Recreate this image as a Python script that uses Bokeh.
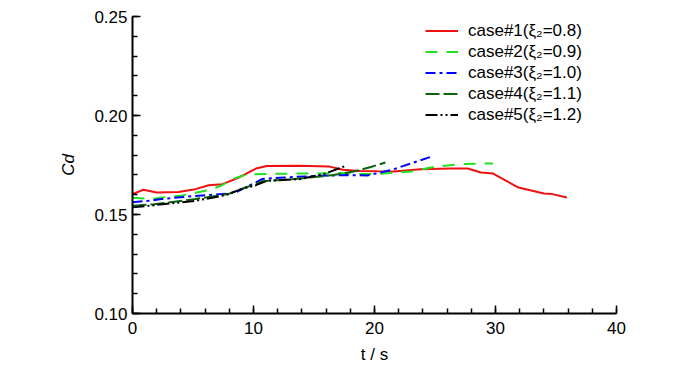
from bokeh.plotting import figure
from bokeh.models import FixedTicker, NumeralTickFormatter, Legend, LegendItem, Range1d
from bokeh.embed import file_html
from bokeh.resources import INLINE

# ---- data ----
t1 = [0, 0.9, 2.0, 3.8, 5.2, 6.3, 7.4, 7.9, 8.8, 10.2, 11.1, 13.7, 16.2, 17.4, 18.8, 20.2,
      21.6, 23.8, 26.3, 27.7, 28.8, 29.8, 31.9, 34.0, 34.7, 35.9]
cd1 = [0.1603, 0.1625, 0.1611, 0.1614, 0.1628, 0.1648, 0.1653, 0.1665, 0.1687, 0.1732, 0.1745,
       0.1746, 0.1743, 0.1726, 0.1720, 0.1718, 0.1717, 0.1728, 0.1732, 0.1732, 0.1712, 0.1707,
       0.1636, 0.1606, 0.1603, 0.1586]

t2 = [0, 1.5, 2.4, 4.0, 5.2, 6.4, 7.3, 8.3, 9.5, 12.1, 15.2, 17.2, 18.8, 20.2, 21.7, 23.0, 24.9,
      27.3, 29.8]
cd2 = [0.1585, 0.1578, 0.1586, 0.1595, 0.1610, 0.1625, 0.1645, 0.1680, 0.1703, 0.1706, 0.1707,
       0.1710, 0.1705, 0.1704, 0.1712, 0.1717, 0.1740, 0.1755, 0.1758]

t3 = [0, 1.3, 2.4, 5.2, 7.4, 8.5, 9.3, 10.2, 10.7, 12.5, 15.3, 17.7, 19.4, 21.4, 24.9]
cd3 = [0.1562, 0.1569, 0.1578, 0.1594, 0.1603, 0.1611, 0.1636, 0.1662, 0.1679, 0.1687, 0.1695,
       0.1699, 0.1697, 0.1725, 0.1796]

t4 = [0, 1.8, 5.2, 7.9, 9.3, 10.2, 10.7, 13.9, 16.6, 18.5, 19.7, 20.9]
cd4 = [0.1544, 0.1552, 0.1578, 0.1603, 0.1636, 0.1653, 0.1668, 0.1682, 0.1699, 0.1720, 0.1740,
       0.1763]

t5 = [0, 1.8, 5.2, 7.7, 9.0, 10.2, 11.1, 13.9, 15.8, 17.6]
cd5 = [0.1536, 0.1547, 0.1569, 0.1598, 0.1628, 0.1648, 0.1670, 0.1679, 0.1704, 0.1745]

labels = ["case#1(ξ₂=0.8)", "case#2(ξ₂=0.9)", "case#3(ξ₂=1.0)", "case#4(ξ₂=1.1)", "case#5(ξ₂=1.2)"]
x_ticks = [0, 10, 20, 30, 40]
y_ticks = [0.10, 0.15, 0.20, 0.25]

FONT = "Liberation Sans"

p = figure(width=684, height=367, output_backend="svg", toolbar_location=None,
           x_range=Range1d(0, 40), y_range=Range1d(0.10, 0.25),
           min_border_left=132, min_border_right=68, min_border_top=16, min_border_bottom=54)
p.outline_line_color = None
p.xgrid.visible = False
p.ygrid.visible = False
p.background_fill_color = "white"

p.xaxis.ticker = FixedTicker(ticks=x_ticks, minor_ticks=[v for v in range(0, 41, 2)])
p.yaxis.ticker = FixedTicker(ticks=y_ticks, minor_ticks=[0.10 + 0.01 * i for i in range(16)])
p.yaxis.formatter = NumeralTickFormatter(format="0.00")

for ax in (p.xaxis[0], p.yaxis[0]):
    ax.axis_line_width = 2
    ax.axis_line_color = "black"
    ax.major_tick_in = 8
    ax.major_tick_out = 0
    ax.minor_tick_in = 5
    ax.minor_tick_out = 0
    ax.major_tick_line_width = 1.5
    ax.minor_tick_line_width = 1.5
    ax.major_tick_line_color = "black"
    ax.minor_tick_line_color = "black"
    ax.major_label_text_font = FONT
    ax.major_label_text_font_size = "17px"
    ax.major_label_text_color = "black"
    ax.axis_label_text_font = FONT
    ax.axis_label_text_font_size = "17px"
    ax.axis_label_text_color = "black"

p.xaxis.major_label_standoff = 8
p.yaxis.major_label_standoff = 5
p.yaxis.axis_label = "Cd"
p.yaxis.axis_label_text_font_style = "italic"
p.yaxis.axis_label_standoff = 13
p.xaxis.axis_label = "t / s"
p.xaxis.axis_label_text_font_style = "normal"
p.xaxis.axis_label_standoff = 8

r1 = p.line(t1, cd1, line_color="#ee1111", line_width=2)
r2 = p.line(t2, cd2, line_color="#22e022", line_width=2, line_dash="12 9")
r3 = p.line(t3, cd3, line_color="#0000ff", line_width=2, line_dash="10 4 3 4")
r4 = p.line(t4, cd4, line_color="#0b640b", line_width=2, line_dash="14 4")
r5 = p.line(t5, cd5, line_color="#000000", line_width=2, line_dash="12 3 2 3 2 3")

legend = Legend(items=[LegendItem(label=l, renderers=[r]) for l, r in zip(labels, [r1, r2, r3, r4, r5])],
                location=(293, 188), padding=0, margin=0, spacing=0,
                glyph_width=33, glyph_height=21, label_height=21, label_standoff=10,
                border_line_color=None, background_fill_alpha=0,
                label_text_font=FONT, label_text_font_size="17px", label_text_color="black")
p.add_layout(legend)

open("out.html", "w").write(file_html(p, INLINE))
